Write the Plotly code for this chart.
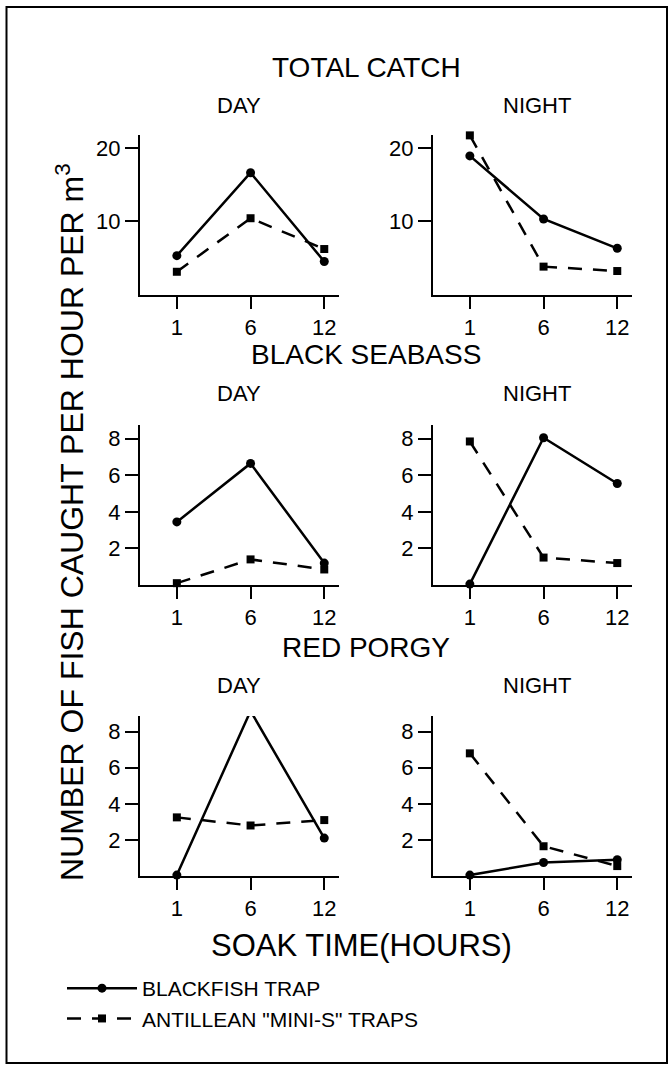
import plotly.graph_objects as go

# ---------------- data ----------------
soak_hours = ["1", "6", "12"]

tc_day_blackfish = [5.3, 16.6, 4.5]
tc_day_minis = [3.1, 10.4, 6.2]
tc_night_blackfish = [18.9, 10.3, 6.3]
tc_night_minis = [21.7, 3.8, 3.2]

bs_day_blackfish = [3.45, 6.65, 1.2]
bs_day_minis = [0.1, 1.4, 0.85]
bs_night_blackfish = [0.05, 8.05, 5.55]
bs_night_minis = [7.85, 1.5, 1.2]

rp_day_blackfish = [0.05, 9.15, 2.1]
rp_day_minis = [3.25, 2.8, 3.1]
rp_night_blackfish = [0.05, 0.75, 0.9]
rp_night_minis = [6.8, 1.65, 0.55]

tc_ticks = [10, 20]
species_ticks = [2, 4, 6, 8]

section_titles = ["TOTAL CATCH", "BLACK SEABASS", "RED PORGY"]
panel_titles = ["DAY", "NIGHT"]
series_names = ["BLACKFISH TRAP", 'ANTILLEAN "MINI-S" TRAPS']

# ---------------- layout helpers ----------------
W, H = 669, 1066
FONT = "Liberation Sans, Arial, sans-serif"


def px_x(v):
    return v / W


def px_y(v):
    return 1 - v / H


col_px = [(140, 339), (433, 632)]
row_px = [(135, 294.5), (425, 585), (716, 876)]
y_ranges = [[0, 21.75], [0, 8.75], [0, 8.87]]
y_ticks = [tc_ticks, species_ticks, species_ticks]

panels = [
    [(tc_day_blackfish, tc_day_minis), (tc_night_blackfish, tc_night_minis)],
    [(bs_day_blackfish, bs_day_minis), (bs_night_blackfish, bs_night_minis)],
    [(rp_day_blackfish, rp_day_minis), (rp_night_blackfish, rp_night_minis)],
]

fig = go.Figure()
layout_axes = {}
idx = 0
for r in range(3):
    for c in range(2):
        idx += 1
        xa = "x" if idx == 1 else f"x{idx}"
        ya = "y" if idx == 1 else f"y{idx}"
        bf, ms = panels[r][c]
        fig.add_trace(go.Scatter(
            x=soak_hours, y=bf, xaxis=xa, yaxis=ya, mode="lines+markers",
            name=series_names[0], legendgroup="bf", showlegend=(idx == 1),
            line=dict(color="black", width=2.5),
            marker=dict(symbol="circle", size=9, color="black"),
            cliponaxis=False,
        ))
        fig.add_trace(go.Scatter(
            x=soak_hours, y=ms, xaxis=xa, yaxis=ya, mode="lines+markers",
            name=series_names[1], legendgroup="ms", showlegend=(idx == 1),
            line=dict(color="black", width=2.5, dash="14px,11px"),
            marker=dict(symbol="square", size=8, color="black"),
            cliponaxis=False,
        ))
        xkey = "xaxis" if idx == 1 else f"xaxis{idx}"
        ykey = "yaxis" if idx == 1 else f"yaxis{idx}"
        layout_axes[xkey] = dict(
            domain=[px_x(col_px[c][0]), px_x(col_px[c][1])],
            anchor=ya, type="category", range=[-0.5, 2.2],
            showline=True, linecolor="black", linewidth=2,
            ticks="outside", ticklen=12, tickwidth=2, tickcolor="black",
            showgrid=False, zeroline=False, fixedrange=True,
            tickfont=dict(family=FONT, size=22, color="black"),
        )
        layout_axes[ykey] = dict(
            domain=[px_y(row_px[r][1]), px_y(row_px[r][0])],
            anchor=xa, range=y_ranges[r], tickmode="array", tickvals=y_ticks[r],
            showline=True, linecolor="black", linewidth=2,
            ticks="outside", ticklen=13, tickwidth=2, tickcolor="black",
            showgrid=False, zeroline=False, fixedrange=True,
            tickfont=dict(family=FONT, size=22, color="black"),
        )

annotations = []
section_y = [67, 355, 647]
panel_y = [105, 393, 685]
panel_x = [239, 537]
for r in range(3):
    annotations.append(dict(
        text=section_titles[r], x=px_x(366), y=px_y(section_y[r]),
        xref="paper", yref="paper", showarrow=False,
        font=dict(family=FONT, size=28, color="black"),
        xanchor="center", yanchor="middle"))
    for c in range(2):
        annotations.append(dict(
            text=panel_titles[c], x=px_x(panel_x[c]), y=px_y(panel_y[r]),
            xref="paper", yref="paper", showarrow=False,
            font=dict(family=FONT, size=22, color="black"),
            xanchor="center", yanchor="middle"))

annotations.append(dict(
    text="SOAK TIME(HOURS)", x=px_x(361), y=px_y(945),
    xref="paper", yref="paper", showarrow=False,
    font=dict(family=FONT, size=31, color="black"),
    xanchor="center", yanchor="middle"))
annotations.append(dict(
    text="NUMBER OF FISH CAUGHT PER HOUR PER m<sup>3</sup>",
    x=px_x(70), y=px_y(522), textangle=-90,
    xref="paper", yref="paper", showarrow=False,
    font=dict(family=FONT, size=32, color="black"),
    xanchor="center", yanchor="middle"))

fig.update_layout(
    width=W, height=H, margin=dict(l=0, r=0, t=0, b=0),
    paper_bgcolor="white", plot_bgcolor="white",
    annotations=annotations,
    shapes=[dict(type="rect", xref="paper", yref="paper",
                 x0=px_x(6.5), x1=px_x(667), y0=px_y(1063), y1=px_y(7),
                 line=dict(color="black", width=2))],
    legend=dict(x=px_x(62), y=px_y(968), xanchor="left", yanchor="top",
                font=dict(family=FONT, size=21, color="black"),
                itemwidth=70, tracegroupgap=0, bgcolor="rgba(0,0,0,0)"),
    **layout_axes,
)

fig.write_html("out.html", config={"displayModeBar": False},
               post_script="document.body.style.margin='0';")
